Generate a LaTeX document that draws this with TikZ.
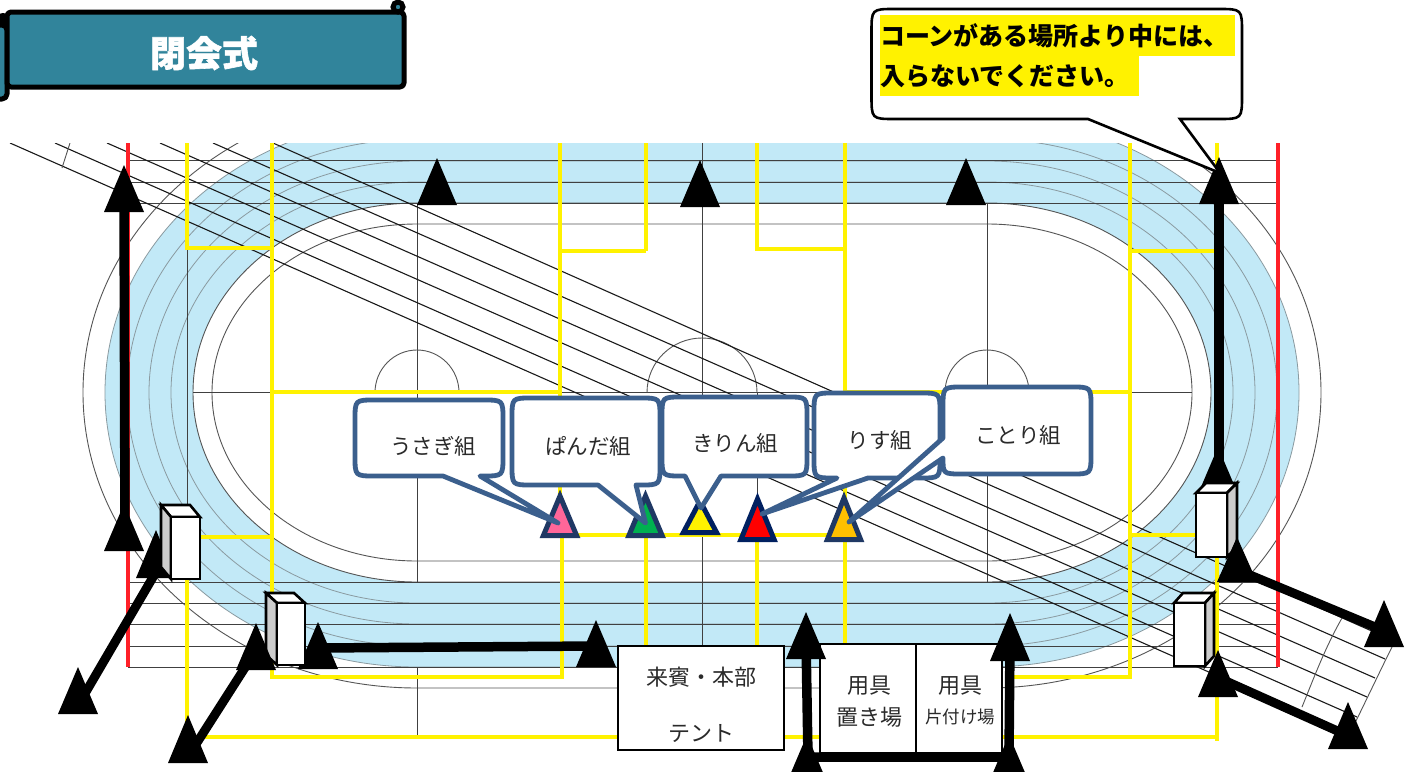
\documentclass[tikz,border=0pt]{standalone}
\usepackage{fontspec}
\newfontfamily\jp{Noto Sans CJK JP}
\newfontfamily\jpheavy[BoldFeatures={FakeBold=1.6}]{Noto Sans CJK JP}
\definecolor{band}{HTML}{C2E9F7}
\definecolor{lane}{HTML}{555555}
\definecolor{lanesoft}{HTML}{8A9AA0}
\definecolor{yel}{HTML}{FFF200}
\definecolor{redl}{HTML}{FF2028}
\definecolor{teal2}{HTML}{31849B}
\definecolor{balblue}{HTML}{3B5F8D}
\definecolor{navyA}{HTML}{1F3864}
\definecolor{navyB}{HTML}{002060}
\definecolor{txt}{HTML}{2A2A2A}
\definecolor{pinkc}{HTML}{FF6699}
\definecolor{greenc}{HTML}{00B050}
\definecolor{orangec}{HTML}{FFC000}
\tikzset{
  lanel/.style={draw=lane,line width=0.9pt},
  lanethin/.style={draw=lanesoft,line width=0.8pt},
  grid/.style={draw=black!75,line width=1pt},
  diag/.style={draw=black!90,line width=1.1pt},
  yline/.style={draw=yel,line width=4.4pt},
  rline/.style={draw=redl,line width=4.5pt},
  thick9/.style={draw=black,line width=9.5pt},
  thick8/.style={draw=black,line width=9pt},
  bal/.style={draw=balblue,fill=white,line width=4.8pt,line join=round},
  baltext/.style={inner sep=0pt,text=txt,font=\jp\fontsize{21.5}{25}\selectfont},
  boxtext/.style={inner sep=0pt,text=txt,font=\jp\fontsize{22}{26}\selectfont},
  tentbox/.style={draw=black,fill=white,line width=1.2pt,inner sep=0pt},
  flag/.style={line width=5pt,line join=round},
  highlight/.style={fill=yellow,inner sep=0pt,anchor=north west,align=left,text=black,font=\jp\bfseries\fontsize{25}{30}\selectfont}
}
% track outline: straight sides with half-ellipse ends
\newcommand{\stadium}[2]{%
  (417,{392.5-#2}) -- (987,{392.5-#2})
  .. controls ({987+0.5523*#1},{392.5-#2}) and ({987+#1},{392.5-0.5523*#2}) .. ({987+#1},392.5)
  .. controls ({987+#1},{392.5+0.5523*#2}) and ({987+0.5523*#1},{392.5+#2}) .. (987,{392.5+#2})
  -- (417,{392.5+#2})
  .. controls ({417-0.5523*#1},{392.5+#2}) and ({417-#1},{392.5+0.5523*#2}) .. ({417-#1},392.5)
  .. controls ({417-#1},{392.5-0.5523*#2}) and ({417-0.5523*#1},{392.5-#2}) .. (417,{392.5-#2}) -- cycle}
\newcommand{\tri}[3]{\fill[black] (#1,#2) -- ({#1+20},#3) -- ({#1-20},#3) -- cycle;}
\newcommand{\cone}[5]{\draw[draw=#4,fill=#5,line width=5pt,line join=miter,miter limit=10] (#1,{#2+6}) -- ({#1+16.6},{#3-2.5}) -- ({#1-16.6},{#3-2.5}) -- cycle;}
% balloon: x1 y1 x2 y2, then tail points from right to left
\newcommand{\balloon}[5]{%
  \draw[bal] ({#1+20},#2) -- ({#3-20},#2) .. controls (#3,#2) .. (#3,{#2+20})
  -- (#3,{#4-20}) .. controls (#3,#4) .. ({#3-20},#4) -- #5
  -- ({#1+20},#4) .. controls (#1,#4) .. (#1,{#4-20})
  -- (#1,{#2+20}) .. controls (#1,#2) .. ({#1+20},#2) -- cycle;}
\newcommand{\cuboid}[6]{%
  \draw[black,fill=white,line width=2.6pt,line join=miter]
    (#1,#2) -- ++(#5,#6) -- ({#3+#5},{#2+#6}) -- (#3,#2) -- cycle;
  \ifdim #5pt<0pt
    \draw[black,fill=black!20,line width=2.6pt] (#1,#2) -- ++(#5,#6) -- ({#1+#5},{#4+#6}) -- (#1,#4) -- cycle;
  \else
    \draw[black,fill=black!20,line width=2.6pt] (#3,#2) -- ++(#5,#6) -- ({#3+#5},{#4+#6}) -- (#3,#4) -- cycle;
  \fi
  \draw[black,fill=white,line width=2.6pt] (#1,#2) rectangle (#3,#4);}
\begin{document}
\begin{tikzpicture}[x=1pt,y=-1pt]
\useasboundingbox (0,0) rectangle (1413,771);
\clip (0,0) rectangle (1413,771);
\fill[white] (0,0) rectangle (1413,771);
% ---- track ----
\begin{scope}
\clip (0,143) rectangle (1413,771);
\fill[band,even odd rule] \stadium{312}{274.5} \stadium{224}{189.5};
\draw[lanel] \stadium{334}{295.5};
\draw[lanethin] \stadium{312}{274.5};
\draw[lanethin] \stadium{290}{253.5};
\draw[lanethin] \stadium{268}{231.5};
\draw[lanethin] \stadium{246}{210.5};
\draw[lanel] \stadium{224}{189.5};
\draw[lanel] \stadium{205}{168.5};
% horizontals
\foreach \yy in {160,182,203,582,603,624,646,667}{\draw[grid] (128,\yy) -- (1278,\yy);}
\draw[grid] (193,392.5) -- (1192,392.5);
% verticals
\draw[grid] (417,203) -- (417,582);
\draw[grid] (417,667) -- (417,735);
\draw[grid] (987,203) -- (987,582);
\draw[grid] (702,143) -- (702,646);
\draw[grid] (757,392.5) -- (757,561);
\draw[grid] (187,248) -- (187,505);
\draw[grid] (1217,251) -- (1217,490);
% semicircles
\draw[lanel] (375,392.5) .. controls (375,369) and (394,350) .. (417,350) .. controls (440,350) and (459,369) .. (459,392.5);
\draw[lanel] (945,392.5) .. controls (945,369) and (964,350) .. (987,350) .. controls (1010,350) and (1029,369) .. (1029,392.5);
\draw[lanel] (647,392.5) .. controls (647,362) and (672,338) .. (702,338) .. controls (732,338) and (757,362) .. (757,392.5);
% diagonals
\draw[diag] (273,143) -- (1392,640);
\draw[diag] (213,143) -- (1385,659);
\draw[diag] (160,143) -- (1375,678);
\draw[diag] (107,143) -- (1367,697);
\draw[diag] (55,143) -- (1357,717);
\draw[diag] (10,143) -- (1347,733);
\draw[lanel] (70,143) -- (62,168);
\draw[lanel] (1342,618) .. controls (1325,648) and (1315,675) .. (1302,707);
\draw[lanel] (1392,647) .. controls (1378,675) and (1365,703) .. (1350,733);
% yellow
\draw[yline,line join=miter] (187,143) -- (187,248) -- (272,248);
\draw[yline] (272,143) -- (272,677) -- (562,677) -- (562,535);
\draw[yline] (272,392) -- (560,392);
\draw[yline] (560,143) -- (560,535);
\draw[yline] (560,251) -- (646,251);
\draw[yline] (646,143) -- (646,251);
\draw[yline] (757,143) -- (757,249) -- (845,249);
\draw[yline] (845,143) -- (845,392) -- (1130,392);
\draw[yline] (845,392) -- (845,646);
\draw[yline] (1130,143) -- (1130,677) -- (1010,677);
\draw[yline] (1130,251) -- (1218,251);
\draw[yline] (1130,535) -- (1200,535);
\draw[yline] (200,537) -- (272,537);
\draw[yline] (187,578) -- (187,737) -- (1217,737);
\draw[yline] (1217,143) -- (1217,170);
\draw[yline] (1217,555) -- (1217,741);
\draw[yline] (560,535) -- (846,535);
\draw[yline] (646,535) -- (646,646);
\draw[yline] (757,535) -- (757,646);
% red
\draw[rline] (128,143) -- (128,667);
\draw[rline] (1278,143) -- (1278,667);
\end{scope}
% ---- banner ----
\draw[flag,fill=teal2,rounded corners=5pt] (-12,25) rectangle (7,99);
\draw[flag,fill=teal2,rounded corners=4pt] (7,12) -- (404,12) -- (404,87) -- (7,87) -- cycle;
\draw[black,fill=teal2,line width=5pt] (398,7) circle (5);
\fill[black] (3,19) circle (6);
\node[inner sep=0pt,text=white,font=\jpheavy\bfseries\fontsize{36}{40}\selectfont] (title) at (204,53) {閉会式};
% ---- tents ----
\node[tentbox,minimum width=166pt,minimum height=104pt] (tent) at (701,698) {};
\node[boxtext] (t1) at (701,677) {来賓・本部};
\node[boxtext] (t2) at (701,734) {テント};
\node[tentbox,minimum width=96pt,minimum height=109pt] (set) at (868,698.5) {};
\node[tentbox,minimum width=86pt,minimum height=109pt] (away) at (959,698.5) {};
\node[boxtext] (s1) at (869,686) {用具};
\node[boxtext] (s2) at (869,717) {置き場};
\node[boxtext] (a1) at (960,686) {用具};
\node[boxtext,font=\jp\fontsize{17.5}{21}\selectfont] (a2) at (960,717) {片付け場};
% ---- walking routes ----
\coordinate (lt) at (124,190); \coordinate (lb) at (125,535);
\coordinate (lc) at (156,572); \coordinate (lo) at (80,702);
\coordinate (mc) at (255,652); \coordinate (mo) at (191,752);
\coordinate (hl) at (318,648); \coordinate (hr) at (596,646);
\coordinate (rt) at (1219,190); \coordinate (rb) at (1219,480);
\coordinate (rc) at (1250,575); \coordinate (ro) at (1380,629);
\coordinate (dc) at (1228,682); \coordinate (do) at (1342,733);
\coordinate (bl1) at (806,640); \coordinate (bl2) at (808,757);
\coordinate (br1) at (1010,640); \coordinate (br2) at (1009,757);
\tri{437}{158}{205}
\tri{700}{160}{207}
\tri{966}{158}{205}
\tri{124}{165}{212}
\tri{124}{504}{551}
\draw[thick9] (lt) -- (lb);
\tri{156}{530}{578}
\tri{78}{667}{714}
\draw[thick8] (lc) -- (lo);
\tri{318}{622}{669}
\tri{596}{620}{667}
\draw[thick9] (hl) -- (hr);
\tri{1219}{157}{204}
\tri{1218}{447}{494}
\draw[thick9] (rt) -- (rb);
\tri{806}{612}{659}
\tri{807}{735}{782}
\tri{1010}{613}{661}
\tri{1009}{735}{782}
\draw[thick9] (bl1) -- (bl2) -- (br2) -- (br1);
% ---- callout ----
\draw[black,fill=white,line width=2.6pt,line join=miter]
 (895,9) -- (1218,9) .. controls (1242,9) .. (1242,33) -- (1242,95) .. controls (1242,119) .. (1218,119)
 -- (1180,119) -- (1220,173) -- (1088,119) -- (895,119) .. controls (871.5,119) .. (871.5,95) -- (871.5,33) .. controls (871.5,9) .. (895,9) -- cycle;
\node[highlight,minimum width=355pt,minimum height=41pt,text width=355pt] (note1) at (880,15) {コーンがある場所より中には、};
\node[highlight,minimum width=259pt,minimum height=40pt,text width=259pt] (note2) at (880,56) {入らないでください。};
% ---- cones (boxes) ----
\cuboid{171}{517}{200}{579}{-10}{-12}
\cuboid{277}{603}{305}{665}{-11}{-10}
\cuboid{1196}{493}{1227}{557}{10}{-10}
\cuboid{1174}{603}{1205}{666}{9}{-10}
\tri{256}{623}{670}
\tri{188}{715}{763}
\draw[thick8] (mc) -- (mo);
\tri{1237}{537}{582}
\tri{1384}{600}{647}
\draw[thick8] (rc) -- (ro);
\tri{1218}{650}{697}
\tri{1348}{702}{749}
\draw[thick8] (dc) -- (do);
% ---- class markers ----
\cone{560}{490}{538}{navyA}{pinkc}
\cone{645.5}{490}{538}{navyA}{greenc}
\cone{700}{495}{535}{navyB}{yellow}
\cone{757.5}{493}{542}{navyB}{red}
\cone{844}{492}{542}{navyA}{orangec}
% ---- balloons ----
\balloon{355}{400}{503}{476}{(480,476) -- (558,523) -- (443,476)}
\balloon{512}{398}{660}{485}{(636,485) -- (645.5,523) -- (598,485)}
\balloon{662}{397}{807}{476}{(721,476) -- (701,508) -- (685,476)}
\balloon{814}{393}{940}{478}{(868,478) -- (762,514) -- (837,478)}
\draw[bal] (963,387) -- (1071,387) .. controls (1091,387) .. (1091,407) -- (1091,454) .. controls (1091,474) .. (1071,474)
  -- (963,474) .. controls (943,474) .. (943,458) -- (849,522) -- (943,438) -- (943,407) .. controls (943,387) .. (963,387) -- cycle;
\node[baltext] (usagi) at (433,446) {うさぎ組};
\node[baltext] (panda) at (588,446) {ぱんだ組};
\node[baltext] (kirin) at (735,443) {きりん組};
\node[baltext] (risu) at (880,440) {りす組};
\node[baltext] (kotori) at (1018,435) {ことり組};
\end{tikzpicture}
\end{document}
